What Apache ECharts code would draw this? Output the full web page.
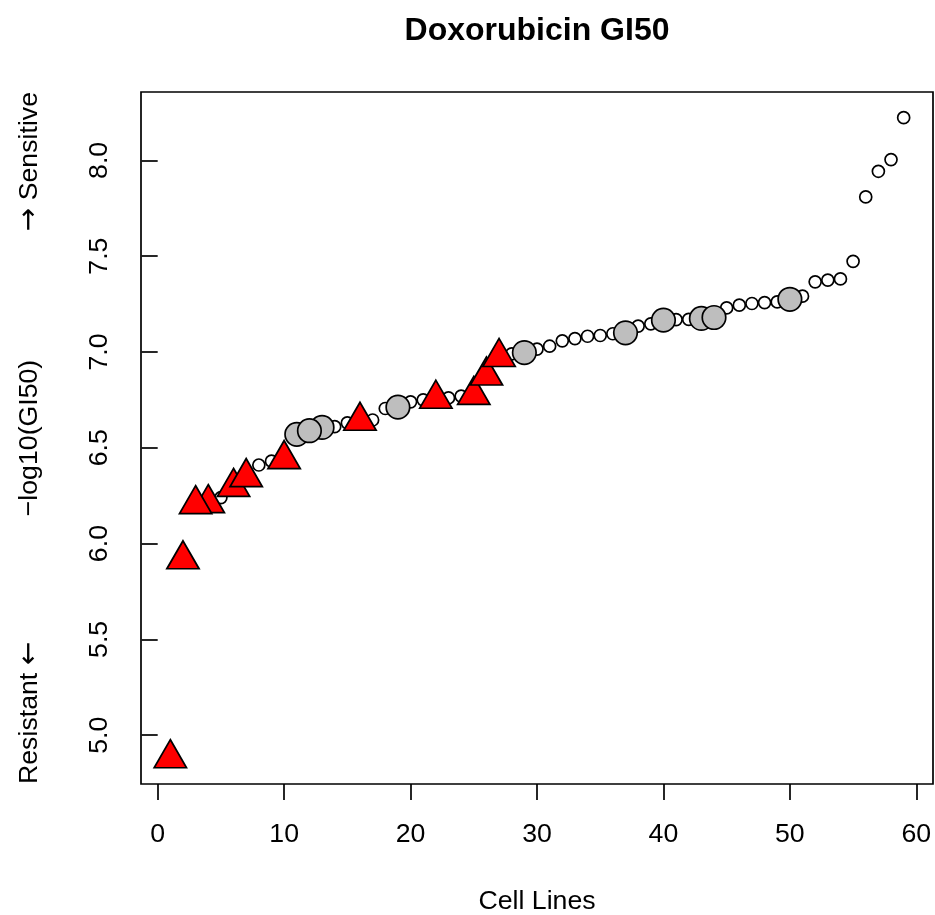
<!DOCTYPE html>
<html>
<head>
<meta charset="utf-8">
<script src="https://cdn.jsdelivr.net/npm/echarts@6/dist/echarts.min.js"></script>
<style>
html,body{margin:0;padding:0;background:#fff;}
#chart{width:935px;height:915px;}
</style>
</head>
<body>
<div id="chart"></div>
<script>
// ---- data ----
const chartTitle = "Doxorubicin GI50";
const xTitle = "Cell Lines";
const yTitle = "\u2212log10(GI50)";
const topNoteArrow = "\u2192", topNoteText = " Sensitive";
const bottomNoteText = "Resistant ", bottomNoteArrow = "\u2190";

const cellRank = [1,2,3,4,5,6,7,8,9,10,11,12,13,14,15,16,17,18,19,20,
  21,22,23,24,25,26,27,28,29,30,31,32,33,34,35,36,37,38,39,40,
  41,42,43,44,45,46,47,48,49,50,51,52,53,54,55,56,57,58,59];
const gi50 = [4.879,5.917,6.205,6.210,6.240,6.295,6.346,6.410,6.430,6.440,
  6.570,6.589,6.606,6.610,6.630,6.640,6.645,6.705,6.712,6.740,
  6.750,6.755,6.760,6.770,6.775,6.876,6.973,6.990,6.997,7.015,
  7.030,7.058,7.070,7.082,7.086,7.095,7.100,7.135,7.147,7.166,
  7.169,7.170,7.175,7.180,7.230,7.244,7.253,7.258,7.261,7.275,
  7.291,7.366,7.375,7.381,7.473,7.809,7.943,8.004,8.223];
// T = red triangle, G = grey circle, O = open circle
const group = ["T","T","T","T","O","T","T","O","O","T",
  "G","G","G","O","O","T","O","O","G","O",
  "O","T","O","O","T","T","T","O","G","O",
  "O","O","O","O","O","O","G","O","O","G",
  "O","O","G","G","O","O","O","O","O","G",
  "O","O","O","O","O","O","O","O","O"];
const xTicks = [0,10,20,30,40,50,60];
const yTicks = [5.0,5.5,6.0,6.5,7.0,7.5,8.0];

// ---- scales like R (4% padding) ----
const xminD = Math.min(...cellRank), xmaxD = Math.max(...cellRank);
const yminD = Math.min(...gi50), ymaxD = Math.max(...gi50);
const xPad = (xmaxD - xminD) * 0.04, yPad = (ymaxD - yminD) * 0.04;

function pts(g){
  const out = [];
  for (let i = 0; i < gi50.length; i++) if (group[i] === g) out.push([cellRank[i], gi50[i]]);
  return out;
}
const triData = pts("T");
// draw x=4 behind x=3 like the reference
const tOrder = [0,1,3,2,4,5,6,7,8,9,10,11];
const triOrdered = tOrder.map(i => triData[i]);
const greyData = pts("G");
const greyOrdered = [greyData[0], greyData[2], greyData[1]].concat(greyData.slice(3));

const FONT = "'Liberation Sans', Arial, Helvetica, sans-serif";
const ARROWFONT = "'DejaVu Sans', sans-serif";
const FS = 26.7;
const LW = 1.7;
const triW = 32.3, triH = triW * Math.sqrt(3) / 2;

const chart = echarts.init(document.getElementById('chart'), null, {renderer: 'canvas'});
chart.setOption({
  animation: false,
  backgroundColor: '#ffffff',
  title: {
    text: chartTitle,
    left: 532, top: 10, textAlign: 'center',
    textStyle: {fontFamily: FONT, fontSize: 32, fontWeight: 'bold', color: '#000'}
  },
  grid: {left: 141, right: 2, top: 92, bottom: 131, show: true,
         outerBoundsMode: 'none', containLabel: false,
         borderColor: '#000', borderWidth: LW, backgroundColor: 'transparent'},
  xAxis: {
    type: 'value', min: xminD - xPad, max: xmaxD + xPad,
    name: xTitle, nameLocation: 'middle', nameGap: 104,
    nameTextStyle: {fontFamily: FONT, fontSize: FS, color: '#000'},
    axisLine: {show: false},
    axisTick: {show: true, inside: false, length: 16, customValues: xTicks,
               lineStyle: {color: '#000', width: LW}},
    axisLabel: {show: true, margin: 37, customValues: xTicks,
                fontFamily: FONT, fontSize: FS, color: '#000',
                formatter: v => String(v)},
    splitLine: {show: false}
  },
  yAxis: {
    type: 'value', min: yminD - yPad, max: ymaxD + yPad,
    name: yTitle, nameLocation: 'middle', nameGap: 98, nameRotate: 90,
    nameTextStyle: {fontFamily: FONT, fontSize: FS, color: '#000'},
    axisLine: {show: false},
    axisTick: {show: true, inside: false, length: 16, customValues: yTicks,
               lineStyle: {color: '#000', width: LW}},
    axisLabel: {show: true, margin: 28, rotate: 90, customValues: yTicks,
                fontFamily: FONT, fontSize: FS, color: '#000',
                formatter: v => v.toFixed(1)},
    splitLine: {show: false}
  },
  graphic: [
    {type: 'text', x: 30, y: 92, rotation: Math.PI / 2,
     style: {text: '{a|' + topNoteArrow + '}{b|' + topNoteText + '}',
             rich: {a: {fontFamily: ARROWFONT, fontSize: 28, fill: '#000'},
                    b: {fontFamily: FONT, fontSize: FS, fill: '#000'}},
             font: FS + 'px ' + FONT, fill: '#000',
             align: 'right', verticalAlign: 'middle'}},
    {type: 'text', x: 30, y: 784, rotation: Math.PI / 2,
     style: {text: '{b|' + bottomNoteText + '}{a|' + bottomNoteArrow + '}',
             rich: {a: {fontFamily: ARROWFONT, fontSize: 28, fill: '#000'},
                    b: {fontFamily: FONT, fontSize: FS, fill: '#000'}},
             font: FS + 'px ' + FONT, fill: '#000',
             align: 'left', verticalAlign: 'middle'}}
  ],
  series: [
    {type: 'scatter', data: pts("O"), symbol: 'circle', symbolSize: 12,
     itemStyle: {color: '#ffffff', borderColor: '#000', borderWidth: LW, opacity: 1}, z: 2},
    {type: 'scatter', data: greyOrdered, symbol: 'circle', symbolSize: 23.5,
     itemStyle: {color: '#bebebe', borderColor: '#000', borderWidth: LW, opacity: 1}, z: 3},
    {type: 'scatter', data: triOrdered, symbol: 'triangle', symbolSize: [triW, triH],
     symbolOffset: [0, -triH / 6],
     itemStyle: {color: '#ff0000', borderColor: '#000', borderWidth: LW, opacity: 1}, z: 4}
  ]
});
</script>
</body>
</html>
